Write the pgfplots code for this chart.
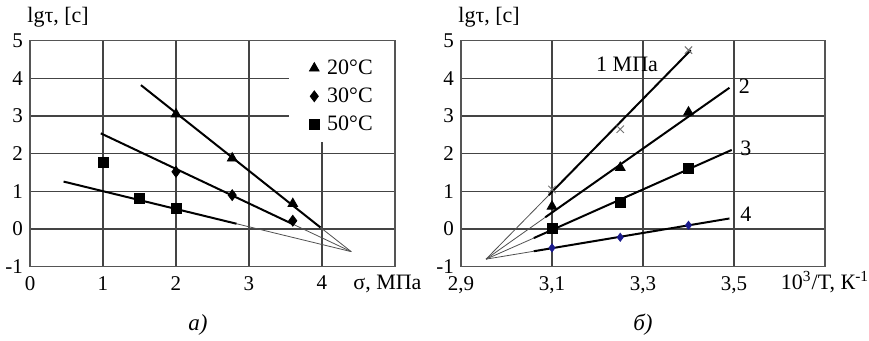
\documentclass[border=0pt]{standalone}
\usepackage{pgfplots}
\pgfplotsset{compat=1.18}
\usepackage{fontspec}
\setmainfont{Liberation Serif}
\definecolor{gridc}{HTML}{444444}
\definecolor{framec}{HTML}{555555}
\definecolor{thinc}{HTML}{505050}
\definecolor{navyc}{HTML}{1A1A8C}
\pgfplotsset{
  base/.style={
    scale only axis, anchor=south west,
    ymin=-1, ymax=5, ytick={-1,0,...,5},
    yticklabels={-1,0,1,2,3,4,5},
    grid=major,
    major grid style={draw=gridc, line width=0.7pt},
    axis line style={draw=framec, line width=0.7pt},
    tick style={draw=none},
    tick label style={font=\fontsize{10.5}{12}\selectfont},
    xticklabel style={yshift=-1.2pt},
    clip=false,
  },
  thick line/.style={black, line width=1pt, no marks},
  thin line/.style={thinc, line width=0.4pt, no marks},
}
\begin{document}
\begin{tikzpicture}
\path[use as bounding box] (0,0) rectangle (434.5pt,170.5pt);
% ---------- (a) ----------
\begin{axis}[base, at={(15pt,37.15pt)}, width=182.5pt, height=113pt,
  xmin=0, xmax=5, xtick={0,1,2,3,4}, xticklabels={0,1,2,3,4},
  legend style={at={(axis cs:3.79,4.62)}, anchor=north west, draw=none, fill=none,
    font=\fontsize{11}{12}\selectfont, row sep=1.2pt, inner sep=0pt},
  legend cell align=left,
  legend image code/.code={\draw[#1] plot coordinates {(0.12cm,0cm)}; \path (0cm,0cm) (0.27cm,0cm);},
]
\fill[white] (axis cs:3.55,2.32) rectangle (axis cs:4.985,4.985);
\addplot[only marks, mark=triangle*, mark size=2.8pt, black] coordinates {(2,3.05) (2.77,1.88) (3.6,0.67)};
\addplot[only marks, mark=diamond*, mark size=2.7pt, black] coordinates {(2,1.52) (2.77,0.9) (3.6,0.22)};
\addplot[only marks, mark=square*, mark size=2.5pt, black] coordinates {(1,1.77) (1.5,0.82) (2,0.55)};
\legend{20°C,30°C,50°C}
% fit lines
\addplot[thick line, forget plot] coordinates {(1.52,3.82) (3.98,0.04)};
\addplot[thin line, forget plot] coordinates {(3.98,0.04) (4.4,-0.6)};
\addplot[thick line, forget plot] coordinates {(0.97,2.54) (3.6,0.13)};
\addplot[thin line, forget plot] coordinates {(3.6,0.13) (4.4,-0.6)};
\addplot[thick line, forget plot] coordinates {(0.46,1.26) (2.83,0.14)};
\addplot[thin line, forget plot] coordinates {(2.83,0.14) (4.4,-0.6)};
\node[anchor=base west, inner sep=0pt, font=\fontsize{11}{12}\selectfont] at ([xshift=-1.5pt,yshift=9.3pt]rel axis cs:0,1) {lgτ, [с]};
\node[anchor=base west, inner sep=0pt, font=\fontsize{11}{12}\selectfont] at ([yshift=-11.5pt]rel axis cs:0.885,0) {σ, МПа};
\node[font=\fontsize{11.5}{12}\selectfont\itshape] at ([yshift=-29pt]rel axis cs:0.46,0) {а)};
\end{axis}
% ---------- (b) ----------
\begin{axis}[base, at={(230.5pt,37.15pt)}, width=182pt, height=113pt,
  xmin=2.9, xmax=3.7, xtick={2.9,3.1,3.3,3.5}, xticklabels={{2,9},{3,1},{3,3},{3,5}},
]
\addplot[thin line] coordinates {(2.955,-0.8) (3.093,0.9)};
\addplot[thick line] coordinates {(3.093,0.9) (3.405,4.75)};
\addplot[thin line] coordinates {(2.955,-0.8) (3.085,0.31)};
\addplot[thick line] coordinates {(3.085,0.31) (3.49,3.75)};
\addplot[thin line] coordinates {(2.955,-0.8) (3.06,-0.24)};
\addplot[thick line] coordinates {(3.06,-0.24) (3.495,2.1)};
\addplot[thin line] coordinates {(2.955,-0.8) (3.06,-0.59)};
\addplot[thick line] coordinates {(3.06,-0.59) (3.49,0.28)};
\addplot[only marks, mark=x, mark size=2.6pt, draw=black!55, line width=0.5pt] coordinates {(3.1,1.05) (3.25,2.65) (3.4,4.75)};
\addplot[only marks, mark=triangle*, mark size=2.8pt, black] coordinates {(3.1,0.6) (3.25,1.63) (3.4,3.1)};
\addplot[only marks, mark=square*, mark size=2.5pt, black] coordinates {(3.1,0.02) (3.25,0.7) (3.4,1.62)};
\addplot[only marks, mark=diamond*, mark size=2pt, navyc] coordinates {(3.1,-0.5) (3.25,-0.22) (3.4,0.1)};
\node[font=\fontsize{11}{12}\selectfont] at (axis cs:3.265,4.36) {1 МПа};
\node[anchor=west, inner sep=0pt, font=\fontsize{11}{12}\selectfont] at (axis cs:3.51,3.8) {2};
\node[anchor=west, inner sep=0pt, font=\fontsize{11}{12}\selectfont] at (axis cs:3.513,2.14) {3};
\node[anchor=west, inner sep=0pt, font=\fontsize{11}{12}\selectfont] at (axis cs:3.513,0.38) {4};
\node[anchor=base west, inner sep=0pt, font=\fontsize{11}{12}\selectfont] at ([xshift=-1.5pt,yshift=9.3pt]rel axis cs:0,1) {lgτ, [с]};
\node[anchor=base west, inner sep=0pt, font=\fontsize{11}{12}\selectfont] at ([yshift=-11.5pt]rel axis cs:0.878,0) {10\textsuperscript{3}/T, К\textsuperscript{-1}};
\node[font=\fontsize{11.5}{12}\selectfont\itshape] at ([yshift=-29pt]rel axis cs:0.5,0) {б)};
\end{axis}
\end{tikzpicture}
\end{document}
